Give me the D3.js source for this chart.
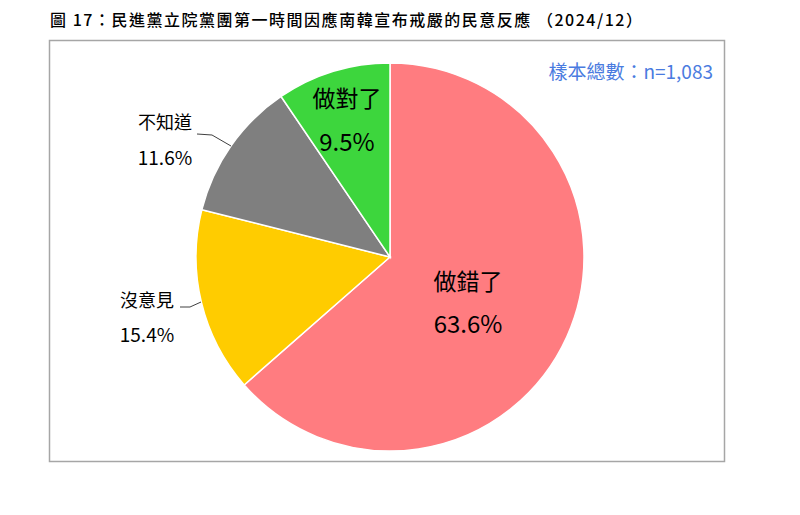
<!DOCTYPE html>
<html><head><meta charset="utf-8">
<script src="https://cdn.jsdelivr.net/npm/d3@7"></script>
<style>body{margin:0;background:#fff}svg{display:block}</style>
</head><body>
<script>
const categories = ["做錯了","沒意見","不知道","做對了"];
const values = [63.6, 15.4, 11.6, 9.5];
const colors = ["#FF7C80","#FFCC00","#7F7F7F","#3DD63D"];
const titleText = "圖 17：民進黨立院黨團第一時間因應南韓宣布戒嚴的民意反應 （2024/12）";
const sampleText = "樣本總數：n=1,083";

const W=800,H=515;
const svg=d3.select("body").append("svg").attr("width",W).attr("height",H);
const font="'Noto Sans CJK TC','Noto Sans',sans-serif";

svg.append("text").attr("x",50).attr("y",26).attr("font-family",font)
  .attr("font-size",16).attr("font-weight",500).attr("fill","#000")
  .attr("textLength",592).attr("lengthAdjust","spacing").text(titleText);

svg.append("rect").attr("x",49.5).attr("y",40.5).attr("width",675).attr("height",421)
  .attr("fill","#fff").attr("stroke","#A6A6A6").attr("stroke-width",1.5);

svg.append("text").attr("x",713).attr("y",79).attr("text-anchor","end").attr("font-family",font)
  .attr("font-size",19).attr("fill","#4A7BE0").text(sampleText);

const cx=390, cy=257, R=194;
const pie=d3.pie().sort(null).value(d=>d)(values);
const arc=d3.arc().innerRadius(0).outerRadius(R);
const g=svg.append("g").attr("transform",`translate(${cx},${cy})`);
g.selectAll("path").data(pie).join("path").attr("d",arc)
  .attr("fill",(d,i)=>colors[i]).attr("stroke","#fff").attr("stroke-width",1.5);

// labels
const inside=[{i:0,x:468,y1:290,y2:333,fs:23},{i:3,x:347,y1:107,y2:151,fs:23}];
inside.forEach(o=>{
  svg.append("text").attr("x",o.x).attr("y",o.y1).attr("text-anchor","middle").attr("font-family",font)
    .attr("font-size",o.fs).attr("fill","#000").text(categories[o.i]);
  svg.append("text").attr("x",o.x).attr("y",o.y2).attr("text-anchor","middle").attr("font-family",font)
    .attr("font-size",o.fs+1).attr("fill","#000").text(values[o.i].toFixed(1)+"%");
});
const outside=[{i:2,x:165,y1:129,y2:165,line:[[197,134],[212,135],[231,146]]},
               {i:1,x:147,y1:307,y2:342,line:[[180,307],[190,307],[201,302]]}];
outside.forEach(o=>{
  svg.append("text").attr("x",o.x).attr("y",o.y1).attr("text-anchor","middle").attr("font-family",font)
    .attr("font-size",18).attr("fill","#000").text(categories[o.i]);
  svg.append("text").attr("x",o.x).attr("y",o.y2).attr("text-anchor","middle").attr("font-family",font)
    .attr("font-size",19).attr("fill","#000").text(values[o.i].toFixed(1)+"%");
  svg.append("path").attr("d",d3.line()(o.line)).attr("fill","none").attr("stroke","#404040").attr("stroke-width",1);
});
</script>
</body></html>
